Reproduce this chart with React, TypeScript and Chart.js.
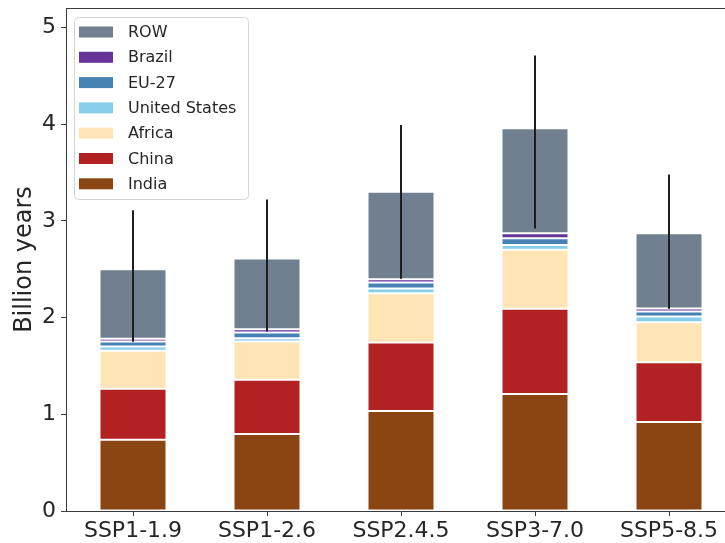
import React, { useEffect, useRef } from "react";
import { Chart, registerables } from "chart.js";

Chart.register(...registerables);

// Scenarios on the x axis
const categories = ["SSP1-1.9", "SSP1-2.6", "SSP2.4.5", "SSP3-7.0", "SSP5-8.5"];

// Stacked contributions, billion years (bottom to top)
const india = [0.737, 0.795, 1.033, 1.209, 0.919];
const china = [0.527, 0.561, 0.709, 0.881, 0.62];
const africa = [0.392, 0.396, 0.51, 0.61, 0.413];
const unitedStates = [0.044, 0.035, 0.048, 0.051, 0.058];
const eu27 = [0.052, 0.058, 0.062, 0.069, 0.052];
const brazil = [0.028, 0.035, 0.035, 0.052, 0.031];
const restOfWorld = [0.72, 0.73, 0.903, 1.084, 0.779];

// Uncertainty range drawn as a vertical whisker on each bar
const errLow = [1.75, 1.855, 2.4, 2.92, 2.09];
const errHigh = [3.11, 3.22, 3.99, 4.71, 3.48];

const yTicks = [0, 1, 2, 3, 4, 5];
const yMax = 5.2;

const seriesLabels = ["India", "China", "Africa", "United States", "EU-27", "Brazil", "ROW"];
const seriesColors = ["#8B4513", "#B22222", "#FFE4B5", "#87CEEB", "#4682B4", "#663399", "#708090"];
const seriesValues = [india, china, africa, unitedStates, eu27, brazil, restOfWorld];

const FONT = "'DejaVu Sans', 'Liberation Sans', sans-serif";
const TEXT = "#262626";
const SPINE = "#3a3a3a";

const framePlugin = {
  id: "frame",
  afterDatasetsDraw(chart: any) {
    const { ctx, chartArea, scales } = chart;
    ctx.save();
    // whiskers
    ctx.strokeStyle = "#1e1e1e";
    ctx.lineWidth = 2;
    for (let i = 0; i < categories.length; i++) {
      const x = Math.round(scales.x.getPixelForValue(i));
      ctx.beginPath();
      ctx.moveTo(x, scales.y.getPixelForValue(errLow[i]));
      ctx.lineTo(x, scales.y.getPixelForValue(errHigh[i]));
      ctx.stroke();
    }
    // top and right spines
    ctx.strokeStyle = SPINE;
    ctx.lineWidth = 1;
    ctx.beginPath();
    ctx.moveTo(chartArea.left, Math.round(chartArea.top) + 0.5);
    ctx.lineTo(chartArea.right, Math.round(chartArea.top) + 0.5);
    ctx.lineTo(chartArea.right, chartArea.bottom);
    ctx.stroke();
    ctx.restore();
  },
  afterDraw(chart: any) {
    const { ctx, chartArea } = chart;
    ctx.save();
    // y axis title
    ctx.translate(31, (chartArea.top + chartArea.bottom) / 2);
    ctx.rotate(-Math.PI / 2);
    ctx.font = `24px ${FONT}`;
    ctx.fillStyle = TEXT;
    ctx.textAlign = "center";
    ctx.textBaseline = "alphabetic";
    ctx.fillText("Billion years", 0, 0);
    ctx.restore();

    // legend box, upper left inside the axes
    ctx.save();
    const bx = chartArea.left + 8;
    const by = chartArea.top + 9;
    const bw = 174;
    const bh = 182;
    ctx.beginPath();
    ctx.roundRect(bx + 0.5, by + 0.5, bw, bh, 4);
    ctx.fillStyle = "rgba(255,255,255,0.85)";
    ctx.fill();
    ctx.strokeStyle = "#d4d4d4";
    ctx.lineWidth = 1;
    ctx.stroke();
    ctx.font = `16px ${FONT}`;
    ctx.textBaseline = "middle";
    ctx.textAlign = "left";
    const datasets = chart.data.datasets;
    for (let k = 0; k < datasets.length; k++) {
      const ds = datasets[datasets.length - 1 - k];
      const cy = by + 15 + k * 25.3;
      ctx.fillStyle = ds.backgroundColor;
      ctx.fillRect(bx + 5, cy - 5.5, 34, 11);
      ctx.fillStyle = TEXT;
      ctx.fillText(ds.label, bx + 54, cy + 1);
    }
    ctx.restore();
  },
};

export default function App() {
  const canvasRef = useRef<HTMLCanvasElement | null>(null);

  useEffect(() => {
    if (!canvasRef.current) return;
    const chart = new Chart(canvasRef.current, {
      type: "bar",
      data: {
        labels: categories,
        datasets: seriesLabels.map((label, i) => ({
          label,
          data: seriesValues[i],
          backgroundColor: seriesColors[i],
          borderColor: "rgba(255,255,255,0.15)",
          borderWidth: 1,
          borderSkipped: false,
          categoryPercentage: 1,
          barPercentage: 0.5,
          stack: "all",
        })),
      },
      options: {
        animation: false,
        responsive: false,
        devicePixelRatio: 1,
        layout: { padding: { left: 0, top: 8, right: 14, bottom: 0 } },
        plugins: {
          legend: { display: false },
          tooltip: { enabled: false },
        },
        scales: {
          x: {
            stacked: true,
            offset: true,
            grid: {
              display: true,
              drawOnChartArea: false,
              offset: false,
              tickLength: 5,
              color: SPINE,
            },
            border: { color: SPINE, width: 1 },
            ticks: {
              font: { family: FONT, size: 22 },
              color: TEXT,
              padding: 2,
              maxRotation: 0,
              autoSkip: false,
            },
            afterFit: (s: any) => {
              s.height = 32;
              s.paddingLeft = 0;
              s.paddingRight = 0;
            },
          },
          y: {
            stacked: true,
            min: 0,
            max: yMax,
            grid: {
              display: true,
              drawOnChartArea: false,
              tickLength: 5,
              color: SPINE,
            },
            border: { color: SPINE, width: 1 },
            ticks: {
              font: { family: FONT, size: 22 },
              color: TEXT,
              padding: 5,
            },
            afterBuildTicks: (s: any) => {
              s.ticks = yTicks.map((v) => ({ value: v }));
            },
            afterFit: (s: any) => {
              s.width = 66;
              s.paddingTop = 0;
              s.paddingBottom = 0;
            },
          },
        },
      },
      plugins: [framePlugin],
    });
    return () => chart.destroy();
  }, []);

  return (
    <div
      style={{
        position: "fixed",
        left: 0,
        top: 0,
        width: 725,
        height: 543,
        overflow: "hidden",
        background: "#fff",
      }}
    >
      <canvas ref={canvasRef} width={750} height={543} style={{ display: "block" }} />
    </div>
  );
}
